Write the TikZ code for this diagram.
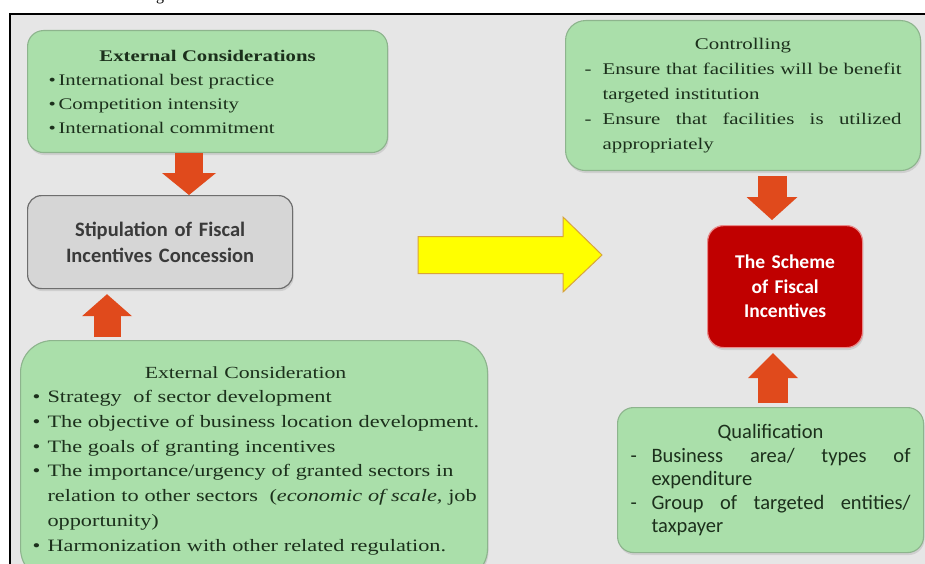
\documentclass[tikz,border=0pt]{standalone}
\usepackage{fontspec}
\newfontfamily\bookserif{Liberation Serif}[FakeStretch=1.28]
\newfontfamily\plainserif{Liberation Serif}
\newfontfamily\bodysans{Carlito}
\usetikzlibrary{arrows.meta,shadows,calc}

\definecolor{pagegray}{HTML}{E6E6E6}
\definecolor{boxgreen}{HTML}{AADFAA}
\definecolor{greenedge}{HTML}{8DB48D}
\definecolor{greentext}{HTML}{1C301C}
\definecolor{flowred}{HTML}{E04A1C}
\definecolor{schemered}{HTML}{C00000}
\definecolor{schemeedge}{HTML}{E98A8A}
\definecolor{stipgray}{HTML}{D6D6D6}
\definecolor{stipedge}{HTML}{6E6E6E}
\definecolor{stiptext}{HTML}{3A3A3A}
\definecolor{arrowyellow}{HTML}{FFFF00}
\definecolor{arrowedge}{HTML}{D8A43C}

% list helpers: a bullet or a dash in a fixed-width slot, then the item text
% (each line is kept in one box so it never wraps)
\newcommand{\bulletline}[2][10pt]{\mbox{\makebox[#1][l]{\textbullet}#2}}
\newcommand{\moreline}[2][15pt]{\mbox{\hspace*{#1}#2}}
\newcommand{\dashitem}[3]{\makebox[#1][l]{-}%
  \makebox[#2][s]{\spaceskip=0pt\relax\xspaceskip=0pt\relax #3}}

\begin{document}
\begin{tikzpicture}[x=1pt,y=-1pt,
  softshadow/.style={drop shadow={opacity=0.22,shadow xshift=1pt,shadow yshift=-2.5pt}},
  greenbox/.style={draw=greenedge, line width=1.1pt, fill=boxgreen, text=greentext,
    softshadow, anchor=north west, inner ysep=0pt, align=left},
  stipbox/.style={draw=stipedge, line width=1.2pt, fill=stipgray, text=stiptext,
    softshadow, anchor=north west, inner ysep=0pt, align=center, rounded corners=14pt},
  schemebox/.style={draw=schemeedge, line width=1.2pt, fill=schemered, text=white,
    softshadow, anchor=north west, inner ysep=0pt, align=center, rounded corners=16pt},
  fatarrow/.style n args={3}{draw=flowred, line width=#1,
    -{Triangle[width=#2,length=#3,line width=0pt]}},
  yellowarrow/.style={draw=arrowedge, line width=1pt, fill=arrowyellow, line join=miter}
]
\useasboundingbox (0,0) rectangle (925,564);
\fill[white] (0,0) rectangle (925,564);

% tail of the caption line above the figure
\begin{scope}
  \clip (0,0) rectangle (925,12);
  \node[anchor=base, inner sep=0pt, font=\plainserif\fontsize{16}{18}\selectfont] (captail) at (160,0.5) {g};
\end{scope}

% panel and its frame
\fill[pagegray] (11,15) rectangle (925,564);
\draw[line width=2.5pt] (10,564) -- (10,14) -- (925,14);

% left column
\node[greenbox, rounded corners=16pt, text width=318pt, inner xsep=21pt, minimum height=122pt,
      font=\bookserif\fontsize{16.2}{24}\selectfont] (ext1) at (27,30)
  {\makebox[\hsize]{\bfseries External Considerations}\\
   \bulletline{International best practice}\\
   \bulletline{Competition intensity}\\
   \bulletline{International commitment}};

\node[stipbox, text width=235pt, inner xsep=15pt, minimum height=93pt,
      font=\bodysans\bfseries\fontsize{20.5}{26}\selectfont] (stip) at (27,195)
  {Stipulation of Fiscal\\Incentives Concession};

\node[greenbox, rounded corners=32pt, text width=443pt, inner xsep=12pt, minimum height=240pt,
      font=\bookserif\fontsize{17.4}{24.7}\selectfont] (ext2) at (20,340)
  {\makebox[\hsize]{\hspace*{-17pt}\fontsize{17}{24.7}\selectfont External Consideration}\\
   \bulletline[15pt]{Strategy\ \ of sector development}\\
   \bulletline[15pt]{The objective of business location development.}\\
   \bulletline[15pt]{The goals of granting incentives}\\
   \bulletline[15pt]{The importance/urgency of granted sectors in}\\
   \moreline{relation to other sectors\ \ (\textit{economic of scale}, job}\\
   \moreline{opportunity)}\\
   \bulletline[15pt]{Harmonization with other related regulation.}};

% right column
\node[greenbox, rounded corners=20pt, text width=317pt, inner xsep=19pt, minimum height=150pt,
      font=\bookserif\fontsize{16.3}{24.8}\selectfont] (ctrl) at (565,20)
  {\makebox[\hsize]{Controlling}\\
   \dashitem{18pt}{299pt}{Ensure that facilities will be benefit}\\
   \moreline[18pt]{targeted institution}\\
   \dashitem{18pt}{299pt}{Ensure that facilities is utilized}\\
   \moreline[18pt]{appropriately}};

\node[schemebox, text width=125pt, inner xsep=15pt, minimum height=122pt,
      font=\bodysans\bfseries\fontsize{19.5}{24.5}\selectfont] (scheme) at (707,225)
  {The Scheme\\of Fiscal\\Incentives};

\node[greenbox, rounded corners=16pt, text width=280pt, inner xsep=13pt, minimum height=145pt,
      font=\bodysans\fontsize{20.5}{23.5}\selectfont] (qual) at (617,407)
  {\makebox[\hsize]{Qualification}\\
   \dashitem{21pt}{259pt}{Business area/ types of}\\
   \moreline[21pt]{expenditure}\\
   \dashitem{21pt}{259pt}{Group of targeted entities/}\\
   \moreline[21pt]{taxpayer}};

% columns of the orange arrows
\coordinate (colA) at (189,0);
\coordinate (colB) at (107,0);
\coordinate (colC) at (772,0);
\coordinate (colD) at (773,0);

\draw[fatarrow={28pt}{54pt}{22pt}] (ext1.south -| colA) -- (stip.north -| colA);
\draw[fatarrow={27pt}{50pt}{22pt}, shorten <=3pt, shorten >=5pt] (ext2.north -| colB) -- (stip.south -| colB);
\draw[fatarrow={29pt}{51pt}{23pt}, shorten <=5pt, shorten >=5pt] (ctrl.south -| colC) -- (scheme.north -| colC);
\draw[fatarrow={30pt}{50pt}{25pt}, shorten <=4pt, shorten >=5pt] (qual.north -| colD) -- (scheme.south -| colD);

% yellow block arrow between the two columns
\coordinate (ytail) at (418,255);
\coordinate (ytip) at (602,255);
\draw[yellowarrow] ($(ytail)+(0,-18.5)$) -- ($(ytip)+(-39,-18.5)$) -- ($(ytip)+(-39,-38)$)
  -- (ytip) -- ($(ytip)+(-39,37)$) -- ($(ytip)+(-39,18.5)$) -- ($(ytail)+(0,18.5)$) -- cycle;
\end{tikzpicture}
\end{document}
